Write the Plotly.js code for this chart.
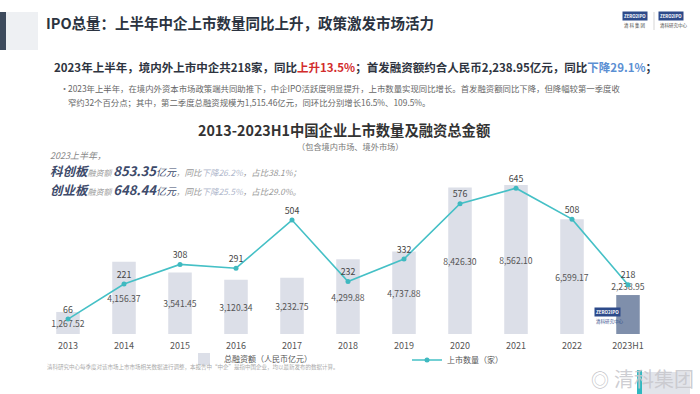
<!DOCTYPE html>
<html><head><meta charset="utf-8">
<script src="https://cdn.plot.ly/plotly-3.0.1.min.js"></script>
<style>html,body{margin:0;padding:0;background:#fff}#chart{width:700px;height:394px}</style>
</head><body><div id="chart"></div>
<script>
const years = ['2013','2014','2015','2016','2017','2018','2019','2020','2021','2022','2023H1'];
const financing = [1267.52,4156.37,3541.45,3120.34,3232.75,4299.88,4737.88,8426.30,8562.10,6599.17,2238.95];
const listings = [66,221,308,291,504,232,332,576,645,508,218];

const W = 700, H = 394, L = 40, R = 44, T = 150, B = 60;
const PW = W - L - R, PH = H - T - B;
const px = x => (x - L) / PW;
const py = y => (H - B - y) / PH;

const FONT = '"Noto Sans CJK SC", "Noto Sans", sans-serif';
const barColors = years.map((y, i) => i === years.length - 1 ? '#7f8fab' : '#dcdfe8');
const barTextPos = years.map((y, i) => i === years.length - 1 ? 'outside' : 'inside');

const traces = [
  {
    type: 'bar', x: years, y: financing, name: '总融资额（人民币亿元）',
    marker: {color: barColors}, width: 0.42,
    texttemplate: '%{y:,.2f}', textposition: barTextPos, insidetextanchor: 'middle',
    constraintext: 'none', textangle: 0, cliponaxis: false,
    textfont: {size: 8.6, color: '#555', family: FONT},
    outsidetextfont: {size: 8.6, color: '#555', family: FONT},
    legend: 'legend', hoverinfo: 'skip'
  },
  {
    type: 'scatter', mode: 'lines+markers+text', x: years, y: listings, yaxis: 'y2',
    name: '上市数量（家）', line: {color: '#45c0c6', width: 1.6},
    marker: {color: '#3fb9c0', size: 5},
    text: listings.map(String), textposition: 'top center', cliponaxis: false,
    textfont: {size: 8.8, color: '#444', family: FONT},
    legend: 'legend2', hoverinfo: 'skip'
  }
];

const ann = (x, y, text, opts = {}) => Object.assign({
  xref: 'paper', yref: 'paper', x: px(x), y: py(y), text: text, showarrow: false,
  xanchor: 'left', yanchor: 'middle', font: {family: FONT, size: 10, color: '#444'}
}, opts);

const annotations = [
  ann(44, 22, '<b>IPO总量：上半年中企上市数量同比上升，政策激发市场活力</b>', {font: {family: FONT, size: 14.5, color: '#2b3340'}}),
  ann(52, 67, '<b>2023年上半年，境内外上市中企共218家，同比<span style="color:#d22c2c">上升13.5%</span>；首发融资额约合人民币2,238.95亿元，同比<span style="color:#5b8fd3">下降29.1%</span>；</b>', {font: {family: FONT, size: 11.5, color: '#2e3440'}}),
  ann(58, 88, '•', {font: {family: FONT, size: 9, color: '#777'}}),
  ann(66, 88, '2023年上半年，在境内外资本市场政策端共同助推下，中企IPO活跃度明显提升，上市数量实现同比增长。首发融资额同比下降，但降幅较第一季度收', {font: {family: FONT, size: 8.4, color: '#666'}}),
  ann(66, 102, '窄约32个百分点；其中，第二季度总融资规模为1,515.46亿元，同环比分别增长16.5%、109.5%。', {font: {family: FONT, size: 8.4, color: '#666'}}),
  ann(344, 129, '<b>2013-2023H1中国企业上市数量及融资总金额</b>', {xanchor: 'center', font: {family: FONT, size: 14.3, color: '#333'}, borderpad: 0}),
  ann(350, 146, '（包含境内市场、境外市场）', {xanchor: 'center', font: {family: FONT, size: 8.2, color: '#777'}, borderpad: 0}),
  ann(48, 155, '<i>2023上半年，</i>', {font: {family: FONT, size: 9, color: '#888'}}),
  ann(48, 170, '<i><b><span style="font-size:12.5px;color:#3d4a6a">科创板</span></b><span style="font-size:8px;color:#999">融资额 </span><b><span style="font-size:13px;color:#3d4a6a">853.35</span></b><span style="font-size:10px;color:#3d4a6a">亿元</span><span style="font-size:8.5px;color:#999">，同比</span><span style="font-size:8.5px;color:#b0b8cc">下降26.2%</span><span style="font-size:8.5px;color:#999">，占比38.1%；</span></i>', {font: {family: FONT, size: 10, color: '#999'}}),
  ann(48, 189, '<i><b><span style="font-size:12.5px;color:#3d4a6a">创业板</span></b><span style="font-size:8px;color:#999">融资额 </span><b><span style="font-size:13px;color:#3d4a6a">648.44</span></b><span style="font-size:10px;color:#3d4a6a">亿元</span><span style="font-size:8.5px;color:#999">，同比</span><span style="font-size:8.5px;color:#b0b8cc">下降25.5%</span><span style="font-size:8.5px;color:#999">，占比29.0%。</span></i>', {font: {family: FONT, size: 10, color: '#999'}}),
  ann(45, 367, '清科研究中心每季度对该市场上市市场相关数据进行调整，本报告中“中企”是指中国企业，均以最新发布的数据计算。', {font: {family: FONT, size: 5.5, color: '#aaa'}}),
  ann(622, 16, '<b>ZERO2IPO</b>', {bgcolor: '#2d4a8a', font: {family: FONT, size: 4.3, color: '#fff'}, borderpad: 1}),
  ann(622, 25, '清 科 集 团', {font: {family: FONT, size: 4.5, color: '#444'}}),
  ann(658, 16, '<b>ZERO2IPO</b>', {bgcolor: '#2d4a8a', font: {family: FONT, size: 4.3, color: '#fff'}, borderpad: 1}),
  ann(658, 25, '清科研究中心', {font: {family: FONT, size: 4.5, color: '#444'}}),
  ann(594, 312, '<b>ZERO2IPO</b>', {bgcolor: '#2d4a8a', font: {family: FONT, size: 4.5, color: '#fff'}, borderpad: 1}),
  ann(594, 321, '清科研究中心', {font: {family: FONT, size: 4.5, color: '#2d4a8a'}}),
  ann(612, 378, '清科集团', {font: {family: FONT, size: 20, color: 'rgba(200,200,205,0.9)'}}),
  ann(589, 379, '◎', {font: {family: FONT, size: 18, color: 'rgba(190,190,195,0.9)'}})
];

const shapes = [
  {type: 'rect', xref: 'paper', yref: 'paper', x0: px(0), x1: px(6), y0: py(12), y1: py(50), fillcolor: '#3d4a5c', line: {width: 0}},
  {type: 'rect', xref: 'paper', yref: 'paper', x0: px(6), x1: px(38), y0: py(12), y1: py(50), fillcolor: '#eef0f3', line: {width: 0}},
  {type: 'line', xref: 'paper', yref: 'paper', x0: px(654), x1: px(654), y0: py(12), y1: py(30), line: {width: 0.6, color: '#bbb'}},
  {type: 'rect', xref: 'paper', yref: 'paper', x0: px(642), x1: px(690), y0: py(372), y1: py(394), fillcolor: '#e2e4ea', line: {width: 0}, layer: 'below'},
  {type: 'rect', xref: 'paper', yref: 'paper', x0: px(637), x1: px(642), y0: py(370), y1: py(394), fillcolor: '#2fb8c0', line: {width: 0}, layer: 'below'}
];

const layout = {
  width: W, height: H, margin: {l: L, r: R, t: T, b: B},
  paper_bgcolor: '#fff', plot_bgcolor: 'rgba(0,0,0,0)',
  font: {family: FONT, color: '#555'},
  bargap: 0.58,
  xaxis: {type: 'category', range: [-0.5, 10.5], showgrid: false, zeroline: false, showline: false,
          ticks: 'outside', ticklen: 3, tickcolor: 'rgba(0,0,0,0)',
          tickfont: {size: 9, color: '#555', family: FONT}, fixedrange: true},
  yaxis: {range: [0, 10575], visible: false, showgrid: false, zeroline: false, fixedrange: true},
  yaxis2: {range: [0, 814], overlaying: 'y', side: 'right', visible: false, showgrid: false, zeroline: false, fixedrange: true},
  showlegend: true,
  legend: {x: px(184), y: py(359), xanchor: 'left', yanchor: 'middle', orientation: 'h', bgcolor: 'rgba(0,0,0,0)',
           font: {size: 8, color: '#555', family: FONT}},
  legend2: {x: px(407), y: py(360), xanchor: 'left', yanchor: 'middle', orientation: 'h', bgcolor: 'rgba(0,0,0,0)',
            font: {size: 8, color: '#555', family: FONT}},
  annotations: annotations,
  shapes: shapes
};

Plotly.newPlot('chart', traces, layout, {displayModeBar: false, staticPlot: true});
</script>
</body></html>
